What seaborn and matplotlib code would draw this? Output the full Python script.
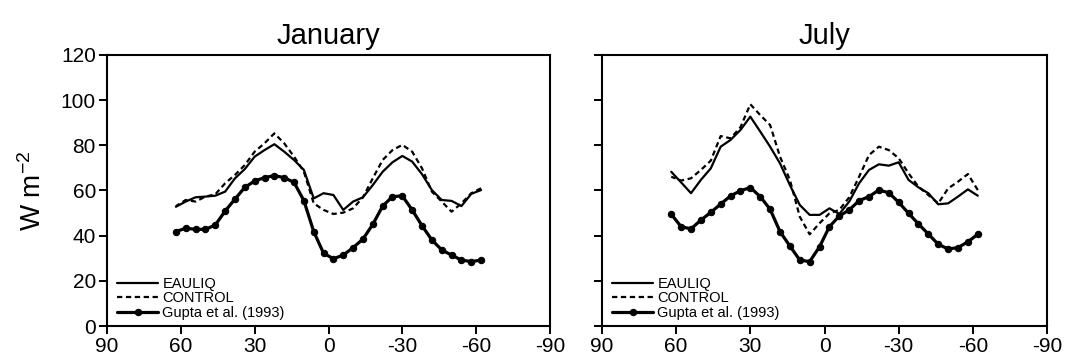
import matplotlib
matplotlib.use("Agg")
import matplotlib.pyplot as plt
import seaborn as sns
import pandas as pd

# Latitudes (degrees, north positive)
lat = [62, 58, 54, 50, 46, 42, 38, 34, 30, 26, 22, 18, 14, 10, 6, 2,
       -2, -6, -10, -14, -18, -22, -26, -30, -34, -38, -42, -46, -50, -54, -58, -62]

# January
jan_eauliq = [52.8, 55.1, 57.0, 57.3, 57.7, 59.5, 65.4, 69.5, 75.0, 77.9, 80.5, 77.2,
              73.5, 69.1, 56.5, 58.8, 58.0, 51.4, 55.1, 57.0, 62.4, 68.3, 72.5, 75.3,
              72.8, 67.2, 60.2, 55.8, 55.4, 53.1, 58.5, 60.2]
jan_control = [53.1, 55.8, 55.1, 57.3, 58.3, 63.2, 66.9, 71.3, 77.2, 80.9, 85.3, 80.9,
               75.0, 68.3, 54.3, 51.4, 49.6, 50.2, 52.1, 57.0, 65.4, 73.5, 77.9, 80.2,
               77.2, 69.8, 59.5, 55.1, 50.6, 54.3, 58.8, 61.0]
jan_gupta = [41.8, 43.3, 42.8, 42.8, 44.7, 50.9, 56.2, 61.4, 64.2, 65.7, 66.6, 65.7,
             63.6, 55.5, 41.8, 32.2, 29.8, 31.4, 34.7, 38.5, 45.0, 53.1, 57.3, 57.6,
             51.4, 44.4, 38.1, 33.7, 31.4, 29.2, 28.5, 29.2]

# July
jul_eauliq = [68.3, 63.6, 58.8, 64.7, 69.8, 79.4, 82.4, 86.8, 92.7, 86.1, 79.4, 72.0,
              62.4, 53.6, 49.2, 49.2, 52.1, 49.6, 55.1, 63.2, 69.1, 71.6, 71.0, 72.5,
              64.7, 61.4, 58.8, 53.9, 54.3, 57.3, 60.5, 57.7]
jul_control = [66.1, 64.4, 65.4, 69.1, 73.2, 84.1, 83.1, 88.0, 98.2, 93.4, 89.0, 75.0,
               64.7, 48.4, 40.6, 45.5, 49.9, 51.4, 57.0, 66.1, 75.7, 79.4, 77.9, 74.3,
               67.6, 61.7, 58.0, 54.3, 60.9, 63.9, 67.3, 60.2]
jul_gupta = [49.5, 44.0, 43.0, 46.9, 50.3, 54.0, 57.6, 59.9, 61.3, 57.3, 51.7, 41.8,
             35.4, 29.2, 28.5, 35.1, 44.0, 48.7, 51.4, 55.5, 57.3, 60.2, 59.0, 54.8,
             49.9, 45.2, 40.7, 36.2, 34.1, 34.7, 37.3, 40.6]

titles = ["January", "July"]
series_names = ["EAULIQ", "CONTROL", "Gupta et al. (1993)"]
xticks = [90, 60, 30, 0, -30, -60, -90]
yticks = [0, 20, 40, 60, 80, 100, 120]

sns.set_style("ticks")
plt.rcParams["font.family"] = ["Liberation Sans", "DejaVu Sans"]
plt.rcParams["text.color"] = "black"
plt.rcParams["axes.labelcolor"] = "black"
plt.rcParams["mathtext.default"] = "regular"

fig = plt.figure(figsize=(10.65, 3.59), dpi=100)
ax1 = fig.add_axes([107/1065, 33/359, 443/1065, 271/359])
ax2 = fig.add_axes([602/1065, 33/359, 445/1065, 271/359])

panels = [(ax1, [jan_eauliq, jan_control, jan_gupta]),
          (ax2, [jul_eauliq, jul_control, jul_gupta])]

for i, (ax, data) in enumerate(panels):
    sns.lineplot(x=lat, y=data[0], ax=ax, color="black", lw=1.6,
                 label=series_names[0])
    sns.lineplot(x=lat, y=data[1], ax=ax, color="black", lw=1.6,
                 linestyle=(0, (2.4, 1.6)), label=series_names[1])
    sns.lineplot(x=lat, y=data[2], ax=ax, color="black", lw=2.3,
                 marker="o", markersize=4.6, markeredgecolor="black",
                 label=series_names[2])
    ax.set_xlim(90, -90)
    ax.set_ylim(0, 120)
    ax.set_xticks(xticks)
    ax.set_xticklabels([str(t) for t in xticks])
    ax.set_yticks(yticks)
    if i == 0:
        ax.set_yticklabels([str(t) for t in yticks])
        ax.set_ylabel("W m$^{\\mathregular{-2}}$", fontsize=20, labelpad=10)
    else:
        ax.set_yticklabels([])
        ax.set_ylabel("")
    ax.set_xlabel("")
    ax.tick_params(axis="both", direction="out", length=6, width=1.4,
                   labelsize=15, colors="black", pad=2)
    for sp in ax.spines.values():
        sp.set_visible(True)
        sp.set_linewidth(1.5)
        sp.set_color("black")
    ax.set_title(titles[i], fontsize=21, pad=8, color="black")
    ax.legend(loc="lower left", frameon=False, fontsize=10.5,
              handlelength=2.8, handletextpad=0.3, labelspacing=0.05,
              borderaxespad=0.0, bbox_to_anchor=(0.01, 0.0))

fig.savefig("out.png", dpi=100)
